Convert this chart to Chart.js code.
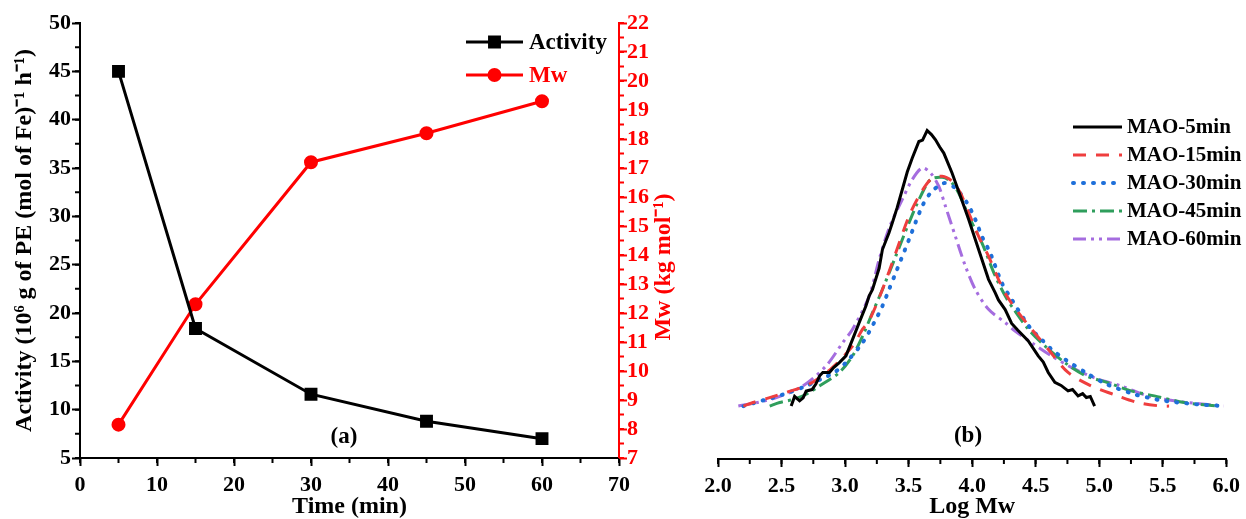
<!DOCTYPE html>
<html>
<head>
<meta charset="utf-8">
<script src="https://cdn.jsdelivr.net/npm/chart.js@4.4.0/dist/chart.umd.min.js"></script>
<style>
  body { margin: 0; background: #fff; }
  #wrap { position: relative; width: 1246px; height: 519px; overflow: hidden; }
  canvas { position: absolute; top: 0; }
  #ca { left: 0; }
  #cb { left: 690px; }
</style>
</head>
<body>
<div id="wrap">
  <canvas id="ca" width="690" height="519"></canvas>
  <canvas id="cb" width="556" height="519"></canvas>
</div>
<script>
// ---- panel (a): activity and Mw vs time ----
const times = [5, 15, 30, 45, 60];
const activity = [45.0, 18.4, 11.6, 8.8, 7.0];   // 10^6 g PE (mol Fe)^-1 h^-1
const mw = [8.15, 12.3, 17.2, 18.2, 19.3];       // kg mol^-1

// ---- panel (b): GPC curves, Log Mw vs normalised signal ----
const gpcLabels = ["MAO-5min", "MAO-15min", "MAO-30min", "MAO-45min", "MAO-60min"];
const logM5 = [2.576, 2.603, 2.642, 2.67, 2.694, 2.74, 2.77, 2.8, 2.825, 2.877, 2.91, 2.955, 3.007, 3.059, 3.111, 3.164, 3.19, 3.216, 3.268, 3.294, 3.346, 3.372, 3.41, 3.45, 3.49, 3.529, 3.581, 3.61, 3.646, 3.68, 3.712, 3.745, 3.777, 3.842, 3.908, 3.973, 4.051, 4.129, 4.182, 4.207, 4.26, 4.311, 4.36, 4.442, 4.52, 4.56, 4.599, 4.651, 4.7, 4.755, 4.79, 4.834, 4.87, 4.899, 4.93, 4.964];
const h5 = [0.0, 0.035, 0.019, 0.03, 0.055, 0.06, 0.08, 0.11, 0.122, 0.122, 0.14, 0.158, 0.182, 0.242, 0.303, 0.363, 0.4, 0.423, 0.5, 0.568, 0.629, 0.665, 0.72, 0.785, 0.85, 0.9, 0.96, 0.965, 1.0, 0.985, 0.966, 0.94, 0.918, 0.846, 0.761, 0.677, 0.568, 0.46, 0.411, 0.385, 0.35, 0.3, 0.275, 0.236, 0.182, 0.16, 0.122, 0.086, 0.075, 0.055, 0.06, 0.037, 0.045, 0.031, 0.035, 0.0];
const logM15 = [2.2, 2.276, 2.4, 2.538, 2.72, 2.9, 3.059, 3.138, 3.19, 3.294, 3.399, 3.503, 3.581, 3.673, 3.764, 3.842, 3.908, 3.973, 4.051, 4.129, 4.207, 4.272, 4.364, 4.468, 4.599, 4.755, 4.938, 5.147, 5.303, 5.486, 5.55];
const h15 = [0.0, 0.013, 0.03, 0.05, 0.08, 0.14, 0.218, 0.279, 0.31, 0.423, 0.556, 0.689, 0.761, 0.822, 0.834, 0.816, 0.773, 0.701, 0.616, 0.544, 0.46, 0.4, 0.339, 0.279, 0.206, 0.122, 0.073, 0.037, 0.013, 0.0, 0.0];
const logM30 = [2.2, 2.35, 2.5, 2.694, 2.82, 2.916, 3.007, 3.138, 3.229, 3.294, 3.346, 3.399, 3.503, 3.607, 3.673, 3.777, 3.87, 3.96, 4.025, 4.077, 4.142, 4.233, 4.311, 4.455, 4.546, 4.625, 4.729, 4.9, 5.055, 5.277, 5.382, 5.512, 5.76, 5.98];
const h30 = [0.0, 0.02, 0.04, 0.073, 0.1, 0.122, 0.158, 0.23, 0.303, 0.363, 0.423, 0.484, 0.604, 0.725, 0.773, 0.809, 0.79, 0.737, 0.677, 0.616, 0.556, 0.448, 0.387, 0.285, 0.242, 0.206, 0.17, 0.12, 0.08, 0.043, 0.031, 0.019, 0.007, 0.0];
const logM45 = [2.407, 2.485, 2.6, 2.694, 2.798, 2.955, 3.059, 3.138, 3.216, 3.294, 3.399, 3.503, 3.594, 3.673, 3.764, 3.829, 3.894, 3.973, 4.077, 4.182, 4.272, 4.33, 4.442, 4.573, 4.729, 4.886, 5.068, 5.251, 5.434, 5.669, 5.93];
const h45 = [0.0, 0.013, 0.025, 0.043, 0.073, 0.122, 0.182, 0.254, 0.339, 0.423, 0.544, 0.665, 0.761, 0.822, 0.83, 0.816, 0.773, 0.689, 0.592, 0.472, 0.39, 0.35, 0.279, 0.218, 0.158, 0.112, 0.085, 0.055, 0.037, 0.013, 0.0];
const logM60 = [2.16, 2.3, 2.459, 2.668, 2.851, 2.981, 3.059, 3.19, 3.268, 3.35, 3.45, 3.529, 3.607, 3.673, 3.738, 3.79, 3.868, 3.947, 4.025, 4.129, 4.26, 4.338, 4.468, 4.625, 4.808, 4.99, 5.173, 5.382, 5.59, 5.98];
const h60 = [0.0, 0.012, 0.031, 0.073, 0.146, 0.23, 0.279, 0.399, 0.532, 0.65, 0.749, 0.822, 0.864, 0.846, 0.797, 0.725, 0.616, 0.508, 0.423, 0.351, 0.303, 0.272, 0.23, 0.182, 0.134, 0.098, 0.073, 0.037, 0.019, 0.0];

const serif = "'Liberation Serif', 'Times New Roman', serif";
const pairs = (xs, ys) => xs.map((x, i) => ({ x: x, y: ys[i] }));

// small minor ticks along the axes
const minorTicks = {
  id: "minorTicks",
  afterDraw(chart, args, opts) {
    const ctx = chart.ctx;
    Object.entries(opts.steps || {}).forEach(([id, step]) => {
      const s = chart.scales[id];
      ctx.save();
      ctx.strokeStyle = s.options.border.color;
      ctx.lineWidth = 2;
      ctx.beginPath();
      for (let v = s.min; v <= s.max + 1e-9; v += step) {
        const p = s.getPixelForValue(v);
        if (s.isHorizontal()) { ctx.moveTo(p, s.top); ctx.lineTo(p, s.top + 5); }
        else if (s.position === "left") { ctx.moveTo(s.right, p); ctx.lineTo(s.right - 5, p); }
        else { ctx.moveTo(s.left, p); ctx.lineTo(s.left + 5, p); }
      }
      ctx.stroke();
      ctx.restore();
    });
  },
};

// legend with line + marker samples, like the original figure
const lineLegend = {
  id: "lineLegend",
  afterDraw(chart, args, opts) {
    const ctx = chart.ctx;
    chart.data.datasets.forEach((ds, i) => {
      const y = opts.y + i * opts.gap;
      ctx.save();
      ctx.strokeStyle = ds.borderColor;
      ctx.lineWidth = ds.borderWidth;
      ctx.lineCap = ds.borderCapStyle || "butt";
      ctx.setLineDash(ds.borderDash || []);
      ctx.beginPath();
      ctx.moveTo(opts.x, y);
      ctx.lineTo(opts.x + opts.w, y);
      ctx.stroke();
      ctx.setLineDash([]);
      if (ds.pointRadius) {
        ctx.fillStyle = ds.pointBackgroundColor;
        ctx.strokeStyle = ds.pointBackgroundColor;
        Chart.helpers.drawPoint(ctx, { pointStyle: ds.pointStyle, radius: ds.pointRadius, rotation: 0, borderWidth: 1 }, opts.x + opts.w / 2, y);
      }
      ctx.fillStyle = opts.colorText ? ds.borderColor : "#000";
      ctx.font = "bold " + opts.size + "px " + serif;
      ctx.textBaseline = "middle";
      ctx.fillText(ds.label, opts.x + opts.w + opts.pad, y + 1);
      ctx.restore();
    });
  },
};

// free text: panel tags, rotated titles
const texts = {
  id: "texts",
  afterDraw(chart, args, opts) {
    const ctx = chart.ctx;
    (opts.items || []).forEach((t) => {
      ctx.save();
      ctx.translate(t.x, t.y);
      if (t.rotate) ctx.rotate(t.rotate);
      ctx.fillStyle = t.color || "#000";
      ctx.font = "bold " + t.size + "px " + serif;
      ctx.textAlign = "center";
      ctx.textBaseline = "middle";
      ctx.fillText(t.text, 0, 0);
      ctx.restore();
    });
  },
};

const tickFont = { family: serif, size: 22, weight: "bold" };
const titleFont = { family: serif, size: 24, weight: "bold", lineHeight: 1 };

new Chart(document.getElementById("ca").getContext("2d"), {
  type: "line",
  data: {
    datasets: [
      {
        label: "Activity",
        data: pairs(times, activity),
        yAxisID: "y",
        borderColor: "#000",
        borderWidth: 3,
        pointStyle: "rect",
        pointRadius: 7,
        pointBackgroundColor: "#000",
        pointBorderColor: "#000",
        tension: 0,
      },
      {
        label: "Mw",
        data: pairs(times, mw),
        yAxisID: "y1",
        borderColor: "#ff0000",
        borderWidth: 3,
        pointStyle: "circle",
        pointRadius: 5.5,
        pointBackgroundColor: "#ff0000",
        pointBorderColor: "#ff0000",
        tension: 0,
      },
    ],
  },
  options: {
    responsive: false,
    animation: false,
    devicePixelRatio: 1,
    layout: { padding: { top: 23, left: 0, right: 0, bottom: 0 } },
    plugins: {
      legend: { display: false },
      tooltip: { enabled: false },
      minorTicks: { steps: { x: 5, y: 2.5, y1: 0.5 } },
      lineLegend: { x: 466, y: 42, gap: 33, w: 57, pad: 6, size: 23, colorText: true },
      texts: {
        items: [
          { text: "(a)", x: 344, y: 437, size: 23 },
          { text: "Mw (kg mol\u207B\u00B9)", x: 664, y: 267, size: 24, color: "#ff0000", rotate: -Math.PI / 2 },
        ],
      },
    },
    scales: {
      x: {
        type: "linear",
        min: 0,
        max: 70,
        afterFit: (s) => { s.height = 61; },
        ticks: { stepSize: 10, color: "#000", font: tickFont, padding: 6, maxRotation: 0, autoSkip: false },
        grid: { drawOnChartArea: false, drawTicks: true, tickLength: 8, tickWidth: 2, tickColor: "#000" },
        border: { color: "#000", width: 2 },
        title: { display: true, text: "Time (min)", color: "#000", font: titleFont, padding: 0 },
      },
      y: {
        position: "left",
        min: 5,
        max: 50,
        afterFit: (s) => { s.width = 80; },
        ticks: { stepSize: 5, color: "#000", font: tickFont, padding: 1, autoSkip: false },
        grid: { drawOnChartArea: false, drawTicks: true, tickLength: 8, tickWidth: 2, tickColor: "#000" },
        border: { color: "#000", width: 2 },
        title: {
          display: true,
          text: "Activity (10\u2076 g of PE (mol of Fe)\u207B\u00B9 h\u207B\u00B9)",
          color: "#000",
          font: { family: serif, size: 24, weight: "bold", lineHeight: 1.2 },
          padding: { top: 10, bottom: 0 },
        },
      },
      y1: {
        position: "right",
        min: 7,
        max: 22,
        afterFit: (s) => { s.width = 71; },
        ticks: { stepSize: 1, color: "#ff0000", font: tickFont, padding: 0, autoSkip: false },
        grid: { drawOnChartArea: false, drawTicks: true, tickLength: 8, tickWidth: 2, tickColor: "#ff0000" },
        border: { color: "#ff0000", width: 2 },
      },
    },
  },
  plugins: [minorTicks, lineLegend, texts],
});

const gpcColors = ["#000000", "#ef3e3e", "#1e6fd9", "#2f9e5c", "#a56ddf"];
const gpcDash = [[], [13, 10], [1, 9], [14, 5, 3, 5], [13, 5, 3, 5, 3, 5]];
const gpcX = [logM5, logM15, logM30, logM45, logM60];
const gpcY = [h5, h15, h30, h45, h60];

new Chart(document.getElementById("cb").getContext("2d"), {
  type: "line",
  data: {
    datasets: gpcLabels.map((label, i) => ({
      label: label,
      data: pairs(gpcX[i], gpcY[i]),
      borderColor: gpcColors[i],
      borderWidth: i === 2 ? 4 : 3,
      borderDash: gpcDash[i],
      borderCapStyle: i === 2 ? "round" : "butt",
      pointRadius: 0,
      tension: i === 0 ? 0 : 0.3,
    })),
  },
  options: {
    responsive: false,
    animation: false,
    devicePixelRatio: 1,
    layout: { padding: { top: 23, left: 28, right: 17, bottom: 0 } },
    plugins: {
      legend: { display: false },
      tooltip: { enabled: false },
      minorTicks: { steps: { x: 0.25 } },
      lineLegend: { x: 383, y: 127, gap: 28, w: 49, pad: 5, size: 21, colorText: false },
      texts: { items: [{ text: "(b)", x: 278, y: 436, size: 23 }] },
    },
    scales: {
      x: {
        type: "linear",
        min: 2,
        max: 6,
        afterFit: (s) => { s.height = 60; },
        ticks: { stepSize: 0.5, color: "#000", font: tickFont, padding: 6, maxRotation: 0, autoSkip: false, callback: (v) => v.toFixed(1) },
        grid: { drawOnChartArea: false, drawTicks: true, tickLength: 8, tickWidth: 2, tickColor: "#000" },
        border: { color: "#000", width: 2 },
        title: { display: true, text: "Log Mw", color: "#000", font: titleFont, padding: 0 },
      },
      y: {
        display: false,
        min: -0.192,
        max: 1.39,
      },
    },
  },
  plugins: [minorTicks, lineLegend, texts],
});
</script>
</body>
</html>
